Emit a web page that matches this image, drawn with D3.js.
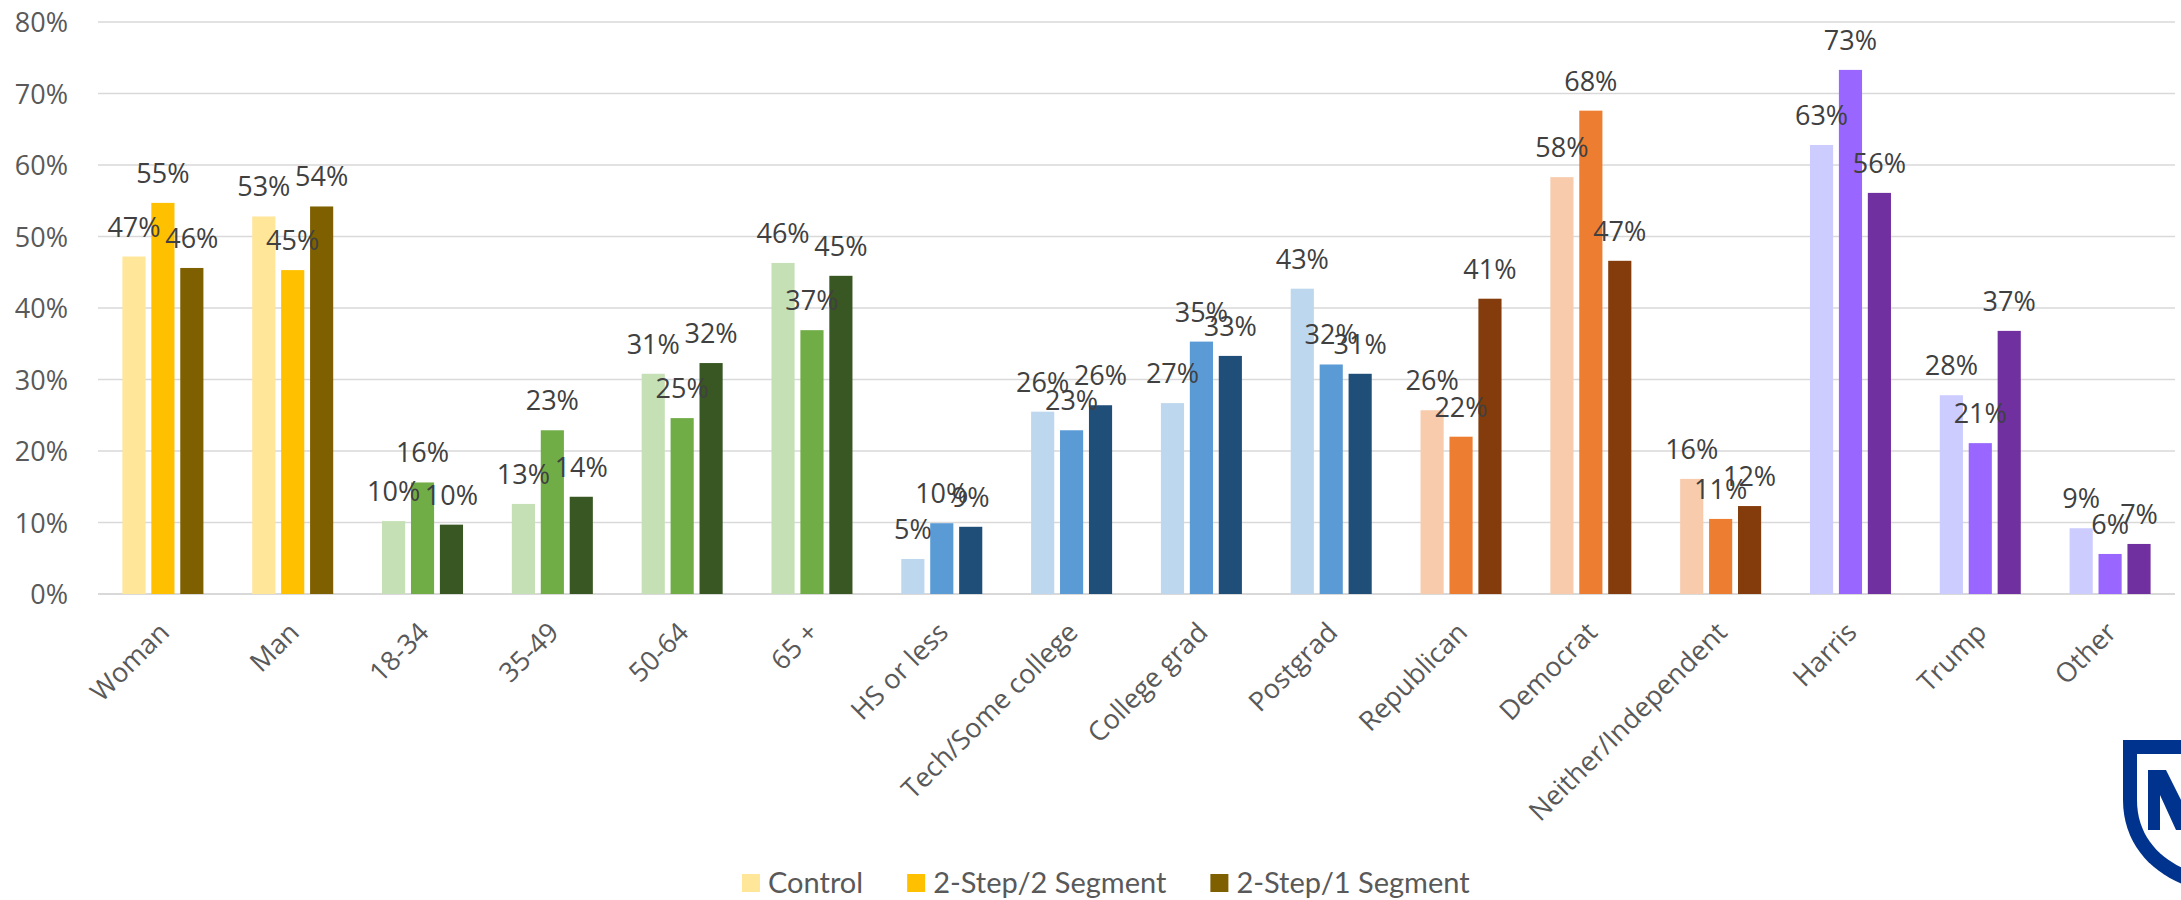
<!DOCTYPE html>
<html lang="en">
<head>
  <meta charset="UTF-8">
  <title>Survey results by segment</title>
  <script src="https://cdn.jsdelivr.net/npm/d3@7"></script>
  <style>
    body { margin: 0; background: #fff; }
    svg { display: block; }
    .tick-label { font-family: "Open Sans", sans-serif; font-size: 27px; fill: #595959; }
    .cat-label { font-family: "Open Sans", sans-serif; font-size: 27px; fill: #595959; }
    .val-label { font-family: "Open Sans", sans-serif; font-size: 27px; fill: #404040; }
    .legend-text { font-family: Lato, sans-serif; font-size: 29px; fill: #595959; }
  </style>
</head>
<body>
<div id="chart"></div>

<script>
// categories along the x axis
const categories = ["Woman", "Man", "18-34", "35-49", "50-64", "65 +", "HS or less",
  "Tech/Some college", "College grad", "Postgrad", "Republican", "Democrat",
  "Neither/Independent", "Harris", "Trump", "Other"];
// which colour family each category belongs to
const groups = ["gender", "gender", "age", "age", "age", "age", "edu", "edu", "edu", "edu",
  "party", "party", "party", "vote", "vote", "vote"];
const seriesNames = ["Control", "2-Step/2 Segment", "2-Step/1 Segment"];

// values
const control   = [0.472, 0.528, 0.102, 0.126, 0.308, 0.463, 0.049, 0.255, 0.267, 0.427, 0.257, 0.583, 0.161, 0.628, 0.278, 0.092];
const twoStep2  = [0.547, 0.453, 0.156, 0.229, 0.246, 0.369, 0.099, 0.229, 0.353, 0.321, 0.220, 0.676, 0.105, 0.733, 0.211, 0.056];
const twoStep1  = [0.456, 0.542, 0.097, 0.136, 0.323, 0.445, 0.094, 0.264, 0.333, 0.308, 0.413, 0.466, 0.123, 0.561, 0.368, 0.070];

const yTicks = [0, 0.1, 0.2, 0.3, 0.4, 0.5, 0.6, 0.7, 0.8];

// light / mid / dark shade per family
const palette = {
  gender: ["#FFE699", "#FFC000", "#7F6000"],
  age:    ["#C5E0B4", "#70AD47", "#385723"],
  edu:    ["#BDD7EE", "#5B9BD5", "#1F4E79"],
  party:  ["#F8CBAD", "#ED7D31", "#843C0C"],
  vote:   ["#CCCCFF", "#9966FF", "#7030A0"]
};

const W = 2181, H = 900;
const svg = d3.select("#chart").append("svg")
  .attr("width", W)
  .attr("height", H);

const x = d3.scaleBand().domain(categories).range([98, 2175]);
const xs = d3.scaleBand().domain(seriesNames).range([0, 81]).paddingInner(0.2);
const y = d3.scaleLinear().domain([0, 0.8]).range([594, 22]);
const pct = d3.format(".0%");

// gridlines + y labels
svg.selectAll("line.grid")
  .data(yTicks)
  .enter()
  .append("line")
  .attr("class", "grid")
  .attr("x1", 98)
  .attr("x2", 2175)
  .attr("y1", d => y(d))
  .attr("y2", d => y(d))
  .attr("stroke", "#D9D9D9")
  .attr("stroke-width", d => d === 0 ? 2 : 1.5);

svg.selectAll("text.tick-label")
  .data(yTicks)
  .enter()
  .append("text")
  .attr("class", "tick-label")
  .attr("text-anchor", "end")
  .attr("x", 68)
  .attr("y", d => y(d) + 10)
  .text(d => pct(d));

// one row per category: [control, 2-step/2, 2-step/1]
const rows = categories.map((c, i) => ({
  cat: c,
  group: groups[i],
  vals: [control[i], twoStep2[i], twoStep1[i]]
}));

const cats = svg.selectAll("g.cat")
  .data(rows)
  .enter()
  .append("g")
  .attr("class", "cat")
  .attr("transform", d => "translate(" + (x(d.cat) + x.bandwidth() / 2 - 40.5) + ",0)");

cats.selectAll("rect")
  .data(d => d.vals.map((v, k) => ({ v: v, s: seriesNames[k], color: palette[d.group][k] })))
  .enter()
  .append("rect")
  .attr("x", d => xs(d.s))
  .attr("width", xs.bandwidth())
  .attr("y", d => y(d.v))
  .attr("height", d => y(0) - y(d.v))
  .attr("fill", d => d.color);

cats.selectAll("text.val-label")
  .data(d => d.vals.map((v, k) => ({ v: v, s: seriesNames[k] })))
  .enter()
  .append("text")
  .attr("class", "val-label")
  .attr("text-anchor", "middle")
  .attr("x", d => xs(d.s) + xs.bandwidth() / 2)
  .attr("y", d => y(d.v) - 20)
  .text(d => pct(d.v));

// rotated category names
svg.selectAll("text.cat-label")
  .data(categories)
  .enter()
  .append("text")
  .attr("class", "cat-label")
  .attr("text-anchor", "end")
  .attr("transform", d => "translate(" + (x(d) + x.bandwidth() / 2 + 8) + ",634) rotate(-45)")
  .text(d => d);

// legend (gender shades)
let lx = 742;
seriesNames.forEach((s, k) => {
  svg.append("rect")
    .attr("x", lx).attr("y", 874)
    .attr("width", 18).attr("height", 18)
    .attr("fill", palette.gender[k]);
  const t = svg.append("text")
    .attr("class", "legend-text")
    .attr("x", lx + 26)
    .attr("y", 893)
    .text(s);
  lx += 26 + t.node().getComputedTextLength() + 44;
});

// shield logo, cut by the right edge
const logo = svg.append("g");
logo.append("path")
  .attr("d", "M2123,740 H2200 V890 C2160,880 2123,850 2123,800 Z")
  .attr("fill", "#00338D");
logo.append("path")
  .attr("d", "M2137,754 H2200 V874 C2168,866 2137,842 2137,800 Z")
  .attr("fill", "#fff");
logo.append("path")
  .attr("d", "M2148,770 H2166 L2181,800 V830 H2176 L2160,795 V830 H2148 Z")
  .attr("fill", "#00338D");
</script>
</body>
</html>
